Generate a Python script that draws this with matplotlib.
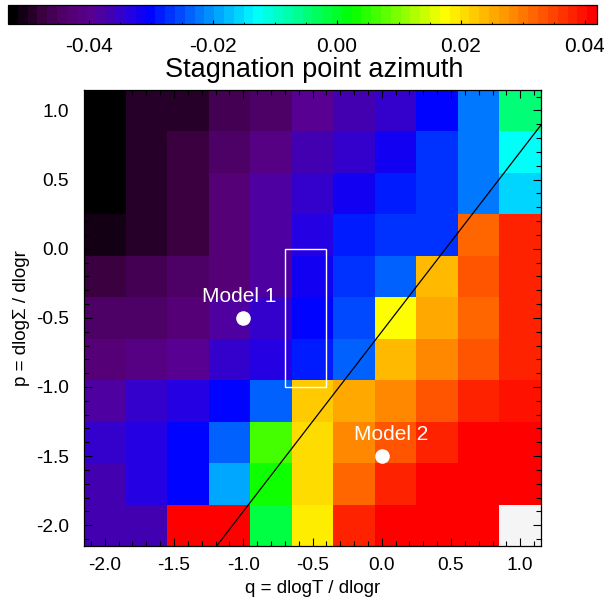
import numpy as np
import matplotlib
matplotlib.use("Agg")
import matplotlib.pyplot as plt
from matplotlib.colors import LinearSegmentedColormap, Normalize
from matplotlib.ticker import MultipleLocator, FormatStrFormatter
from matplotlib.patches import Rectangle

plt.rcParams['font.family'] = ['Liberation Sans', 'DejaVu Sans']
plt.rcParams['axes.unicode_minus'] = False

# Grid of temperature slope q (columns) and surface-density slope p (rows, top to bottom)
q_values = [-2.0, -1.7, -1.4, -1.1, -0.8, -0.5, -0.2, 0.1, 0.4, 0.7, 1.0]
p_values = [1.0, 0.7, 0.4, 0.1, -0.2, -0.5, -0.8, -1.1, -1.4, -1.7, -2.0]

# Stagnation point azimuth for each (p, q) cell; nan = no solution
azimuth = [
    [-0.0530, -0.0497, -0.0483, -0.0464, -0.0440, -0.0397, -0.0369, -0.0340, -0.0293, -0.0217, -0.0055],
    [-0.0530, -0.0497, -0.0473, -0.0445, -0.0407, -0.0369, -0.0350, -0.0312, -0.0264, -0.0217, -0.0122],
    [-0.0516, -0.0497, -0.0473, -0.0435, -0.0378, -0.0340, -0.0312, -0.0283, -0.0264, -0.0217, -0.0150],
    [-0.0502, -0.0483, -0.0468, -0.0435, -0.0373, -0.0326, -0.0283, -0.0264, -0.0264,  0.0316,  0.0373],
    [-0.0468, -0.0459, -0.0445, -0.0426, -0.0373, -0.0312, -0.0264, -0.0245,  0.0240,  0.0335,  0.0382],
    [-0.0449, -0.0440, -0.0435, -0.0383, -0.0354, -0.0307, -0.0254,  0.0178,  0.0249,  0.0316,  0.0382],
    [-0.0430, -0.0411, -0.0397, -0.0340, -0.0326, -0.0283, -0.0236,  0.0240,  0.0287,  0.0335,  0.0382],
    [-0.0383, -0.0354, -0.0326, -0.0293, -0.0245,  0.0221,  0.0249,  0.0287,  0.0335,  0.0373,  0.0401],
    [-0.0354, -0.0335, -0.0293, -0.0236,  0.0059,  0.0202,  0.0287,  0.0335,  0.0382,  0.0420,  0.0420],
    [-0.0359, -0.0335, -0.0293, -0.0188,  0.0026,  0.0202,  0.0316,  0.0382,  0.0420,  0.0420,  0.0420],
    [-0.0369, -0.0369,  0.0420,  0.0420, -0.0008,  0.0183,  0.0373,  0.0420,  0.0420,  0.0420,  np.nan],
]

cbar_min, cbar_max = -0.053, 0.042

# Highlighted models and the selected region
model_names = ["Model 1", "Model 2"]
model_q = [-1.0, 0.0]
model_p = [-0.5, -1.5]
label_dq = [-0.03, 0.07]
box_q = (-0.7, -0.4)
box_p = (-1.0, 0.0)

# Black -> purple -> blue -> cyan -> green -> yellow -> red palette with 60 steps
anchors = [
    (0.000, (0, 0, 0)),
    (0.050, (58, 0, 62)),
    (0.100, (85, 0, 118)),
    (0.140, (88, 0, 148)),
    (0.170, (66, 0, 178)),
    (0.200, (40, 0, 224)),
    (0.235, (0, 0, 255)),
    (0.420, (0, 255, 255)),
    (0.585, (0, 255, 0)),
    (0.745, (255, 255, 0)),
    (1.000, (255, 0, 0)),
]
cmap = LinearSegmentedColormap.from_list(
    "rainbow_steps", [(f, tuple(np.array(c) / 255.0)) for f, c in anchors], N=60)
cmap.set_bad("#f5f5f5")
norm = Normalize(vmin=cbar_min, vmax=cbar_max)

W, H = 604, 603
fig = plt.figure(figsize=(W / 100, H / 100), dpi=100)

ax = fig.add_axes([84 / W, 57 / H, 457 / W, 456.3 / H])
Z = np.ma.masked_invalid(np.array(azimuth, dtype=float))
mesh = ax.pcolormesh(q_values, p_values, Z, cmap=cmap, norm=norm, shading="nearest")

ax.set_xlim(-2.15, 1.15)
ax.set_ylim(-2.15, 1.15)

# Diagonal reference line p = 1.3 q - 0.6
qline = np.array([-2.15, 1.15])
ax.plot(qline, 1.3 * qline - 0.6, color="black", lw=0.9)

ax.add_patch(Rectangle((box_q[0], box_p[0]), box_q[1] - box_q[0], box_p[1] - box_p[0],
                       fill=False, edgecolor="white", lw=1.0))

ax.plot(model_q, model_p, "o", color="white", markersize=10.5, markeredgewidth=0)
for name, mq, mp, dq in zip(model_names, model_q, model_p, label_dq):
    ax.text(mq + dq, mp + 0.155, name, color="white",
            fontsize=15, ha="center", va="center")

ax.xaxis.set_major_locator(MultipleLocator(0.5))
ax.xaxis.set_minor_locator(MultipleLocator(0.1))
ax.yaxis.set_major_locator(MultipleLocator(0.5))
ax.yaxis.set_minor_locator(MultipleLocator(0.1))
ax.xaxis.set_major_formatter(FormatStrFormatter("%.1f"))
ax.yaxis.set_major_formatter(FormatStrFormatter("%.1f"))
ax.tick_params(which="both", direction="in", top=True, right=True, color="black")
ax.tick_params(which="major", length=5.8, width=0.8, labelsize=13.8, pad=8)
ax.tick_params(which="minor", length=3.6, width=0.8)
ax.tick_params(axis="y", which="major", pad=11)
for s in ax.spines.values():
    s.set_linewidth(0.9)

ax.set_xlabel("q = dlogT / dlogr", fontsize=13.5, labelpad=4)
ax.set_ylabel("p = dlog\u03a3 / dlogr", fontsize=13.5, labelpad=4)

# Horizontal colour bar along the top
cax = fig.add_axes([8 / W, 1 - 24 / H, 589 / W, 19.5 / H])
cb = fig.colorbar(mesh, cax=cax, orientation="horizontal")
cb.outline.set_linewidth(0.9)
cax.xaxis.set_major_locator(MultipleLocator(0.02))
cax.xaxis.set_minor_locator(MultipleLocator(0.005))
cax.xaxis.set_major_formatter(FormatStrFormatter("%.2f"))
cax.tick_params(which="both", direction="in", bottom=True, top=False, color="black")
cax.tick_params(which="major", length=3, width=0.8, labelsize=15, pad=9)
cax.tick_params(which="minor", length=1.5, width=0.6)

fig.text(314 / W, 1 - 70 / H, "Stagnation point azimuth", fontsize=19.5,
         ha="center", va="center")

fig.savefig("out.png", dpi=100)
